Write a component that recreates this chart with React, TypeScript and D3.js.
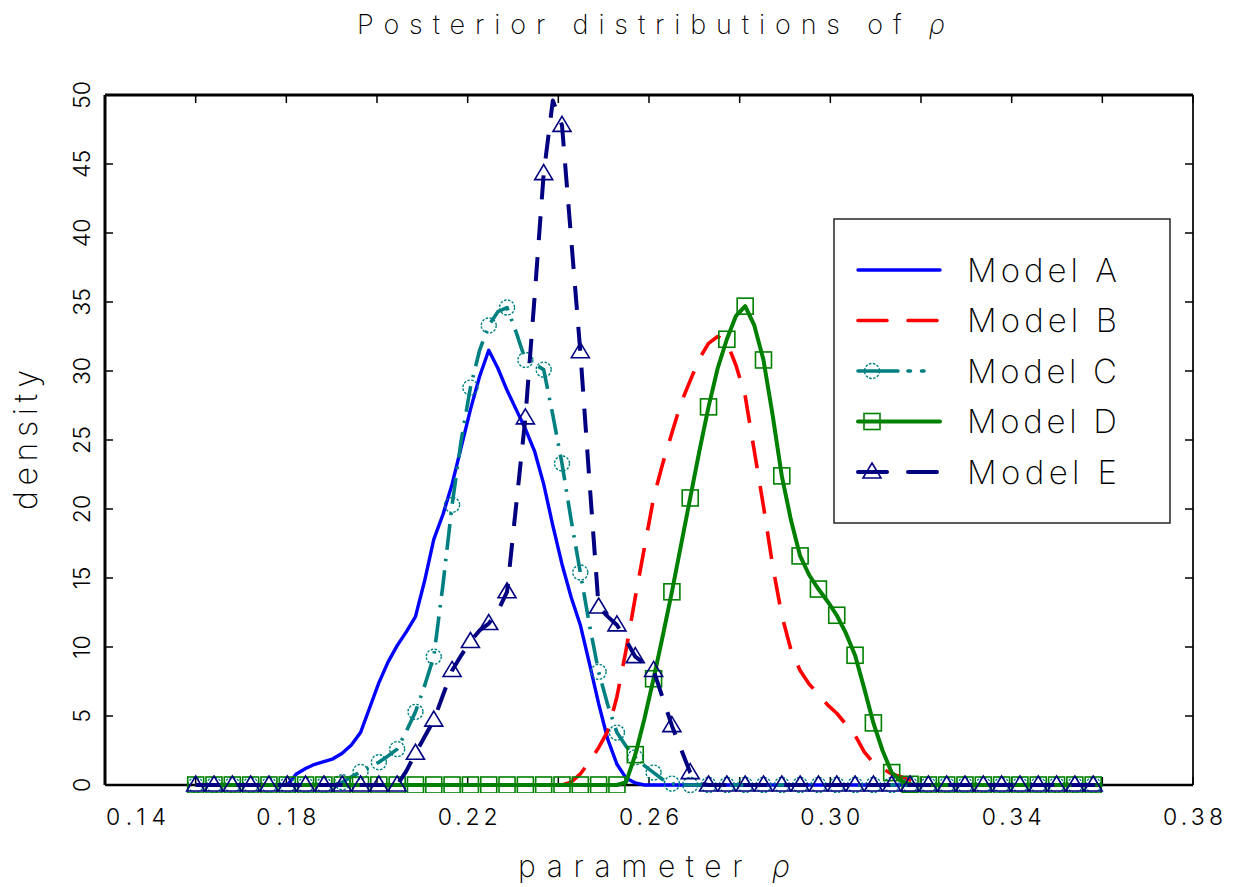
import React from 'react';
import * as d3 from 'd3';

const W = 1233;
const H = 887;

// Evaluation grid of the posterior densities (parameter rho)
const gridStart = 0.16;
const gridEnd = 0.36;
const gridCount = 100;
const xGrid = d3.range(gridCount).map((i) => gridStart + (i * (gridEnd - gridStart)) / (gridCount - 1));

const xTicks = [0.14, 0.16, 0.18, 0.2, 0.22, 0.24, 0.26, 0.28, 0.3, 0.32, 0.34, 0.36, 0.38];
const xTickLabels = ['0.14', '0.18', '0.22', '0.26', '0.30', '0.34', '0.38'];
const yTicks = [0, 5, 10, 15, 20, 25, 30, 35, 40, 45, 50];

const modelA = [
  0, 0, 0, 0, 0, 0, 0, 0, 0, 0, 0,
  0.8, 1.2, 1.5, 1.7, 1.9, 2.3, 2.9, 3.8, 5.6, 7.4,
  8.9, 10.1, 11.1, 12.2, 14.8, 17.8, 19.6, 21.8, 24.5, 27.2,
  29.6, 31.5, 30.2, 28.6, 27.2, 25.8, 24.2, 21.8, 18.8, 16.0,
  13.6, 11.6, 8.8, 5.9, 3.3, 1.5, 0.5, 0.15,
  0, 0, 0, 0, 0, 0, 0, 0, 0, 0, 0, 0, 0, 0, 0, 0, 0, 0, 0, 0, 0, 0, 0, 0, 0,
  0, 0, 0, 0, 0, 0, 0, 0, 0, 0, 0, 0, 0, 0, 0, 0, 0, 0, 0, 0, 0, 0, 0, 0, 0, 0,
];

const modelB = [
  0, 0, 0, 0, 0, 0, 0, 0, 0, 0, 0, 0, 0, 0, 0, 0, 0, 0, 0, 0,
  0, 0, 0, 0, 0, 0, 0, 0, 0, 0, 0, 0, 0, 0, 0, 0, 0, 0, 0, 0, 0,
  0.2, 0.8, 1.7, 2.7, 3.9, 6.4, 9.8, 13.6, 17.2, 20.8,
  23.3, 25.5, 27.7, 29.3, 30.9, 32.0, 32.5, 32.1, 30.4, 28.2,
  24.2, 20.2, 15.9, 12.3, 9.8, 8.3, 7.3, 6.6, 5.8, 5.2,
  4.4, 3.6, 2.4, 1.6, 1.2, 0.8, 0.6, 0.35, 0.1,
  0, 0, 0, 0, 0, 0, 0, 0, 0, 0, 0, 0, 0, 0, 0, 0, 0, 0, 0, 0,
];

const modelC = [
  0, 0, 0, 0, 0, 0, 0, 0, 0, 0, 0, 0, 0, 0, 0, 0,
  0.2, 0.6, 0.95, 1.3, 1.65, 2.1, 2.6, 3.9, 5.3, 7.2,
  9.3, 14.5, 20.3, 25.0, 28.8, 31.5, 33.3, 34.3, 34.6, 32.8,
  30.8, 30.5, 30.1, 26.8, 23.3, 19.2, 15.4, 11.6, 8.2, 5.8,
  3.8, 2.8, 2.0, 1.4, 0.9, 0.4, 0.1,
  0, 0, 0, 0, 0, 0, 0, 0, 0, 0, 0, 0, 0, 0, 0, 0, 0, 0, 0, 0, 0, 0, 0,
  0, 0, 0, 0, 0, 0, 0, 0, 0, 0, 0, 0, 0, 0, 0, 0, 0, 0, 0, 0, 0, 0, 0, 0,
];

const modelD = [
  0, 0, 0, 0, 0, 0, 0, 0, 0, 0, 0, 0, 0, 0, 0, 0, 0, 0, 0, 0, 0, 0, 0, 0,
  0, 0, 0, 0, 0, 0, 0, 0, 0, 0, 0, 0, 0, 0, 0, 0, 0, 0, 0, 0, 0, 0, 0,
  0.2, 2.2, 4.8, 7.7, 10.8, 14.0, 17.4, 20.8, 24.2, 27.4,
  30.2, 32.3, 34.0, 34.7, 33.3, 30.8, 26.8, 22.4, 19.2, 16.6,
  15.2, 14.2, 13.3, 12.3, 11.0, 9.4, 7.0, 4.5, 2.5, 0.9, 0.3, 0.05,
  0, 0, 0, 0, 0, 0, 0, 0, 0, 0, 0, 0, 0, 0, 0, 0, 0, 0, 0, 0, 0,
];

const modelE = [
  0, 0, 0, 0, 0, 0, 0, 0, 0, 0, 0, 0, 0, 0, 0, 0, 0, 0, 0, 0, 0, 0, 0,
  1.0, 2.3, 3.5, 4.7, 6.5, 8.3, 9.4, 10.4, 11.2, 11.7,
  12.6, 14.0, 20.3, 26.6, 35.3, 44.3, 49.6, 47.8, 39.6, 31.4,
  22.0, 12.9, 12.2, 11.6, 10.5, 9.3, 8.8, 8.3, 6.3, 4.3,
  2.6, 0.9, 0.1,
  0, 0, 0, 0, 0, 0, 0, 0, 0, 0, 0, 0, 0, 0, 0, 0, 0, 0, 0, 0, 0, 0,
  0, 0, 0, 0, 0, 0, 0, 0, 0, 0, 0, 0, 0, 0, 0, 0, 0, 0, 0, 0, 0, 0,
];

const modelNames = ['Model A', 'Model B', 'Model C', 'Model D', 'Model E'];

type Style = { color: string; width: number; dash?: string; marker?: 'circle' | 'square' | 'triangle' };
const styles: Style[] = [
  { color: '#0000ff', width: 3.4 },
  { color: '#ff0000', width: 3.6, dash: '28 18' },
  { color: '#008080', width: 3.6, dash: '26 9 2.5 9', marker: 'circle' },
  { color: '#008000', width: 4 },
  { color: '#000080', width: 4, dash: '24 17', marker: 'triangle' },
];
styles[3].marker = 'square';

const FONT = "Inter, 'DejaVu Sans', sans-serif";

function Marker({ kind, cx, cy, color }: { kind: string; cx: number; cy: number; color: string }) {
  if (kind === 'circle') {
    return <circle cx={cx} cy={cy} r={7.5} fill="none" stroke={color} strokeWidth={1.4} strokeDasharray="2.5 1.5" />;
  }
  if (kind === 'square') {
    return <rect x={cx - 8} y={cy - 8} width={16} height={16} fill="none" stroke={color} strokeWidth={1.6} />;
  }
  return (
    <path
      d={`M${cx},${cy - 9} L${cx + 9},${cy + 6} L${cx - 9},${cy + 6} Z`}
      fill="none"
      stroke={color}
      strokeWidth={1.6}
    />
  );
}

export default function App() {
  const x = d3.scaleLinear().domain([0.14, 0.38]).range([105, 1193]);
  const y = d3.scaleLinear().domain([0, 50]).range([785, 95]);
  const series = [modelA, modelB, modelC, modelD, modelE];
  const line = d3
    .line<number>()
    .x((_, i) => x(xGrid[i]))
    .y((d) => y(d));

  const legendX0 = 858;
  const legendX1 = 940;
  const legendY = (i: number) => 270 + i * 50.5;

  return (
    <svg width={W} height={H} style={{ position: 'absolute', left: 0, top: 0, background: '#fff' }} fontFamily={FONT}>
      <rect x={0} y={0} width={W} height={H} fill="#fff" />
      {/* title */}
      <text x={651} y={34} fontSize={27} fontWeight={200} textAnchor="middle" textLength={588} lengthAdjust="spacing">
        Posterior distributions of <tspan fontStyle="italic">ρ</tspan>
      </text>

      {/* axes box */}
      <line x1={105} x2={1193} y1={95} y2={95} stroke="#000" strokeWidth={3} />
      <line x1={105} x2={105} y1={95} y2={785} stroke="#000" strokeWidth={3} />
      <line x1={105} x2={1193} y1={785} y2={785} stroke="#000" strokeWidth={2.5} />
      <line x1={1193} x2={1193} y1={95} y2={785} stroke="#222" strokeWidth={2} />
      {yTicks.map((t) => (
        <g key={'yt' + t}>
          <line x1={105} x2={113} y1={y(t)} y2={y(t)} stroke="#000" strokeWidth={1.5} />
          <line x1={1185} x2={1193} y1={y(t)} y2={y(t)} stroke="#000" strokeWidth={1.5} />
          <text
            transform={`translate(90,${y(t)}) rotate(-90)`}
            fontSize={23}
            fontWeight={300}
            textAnchor="middle"
          >
            {String(t)}
          </text>
        </g>
      ))}
      {xTicks.map((t) => (
        <g key={'xt' + t}>
          <line x1={x(t)} x2={x(t)} y1={95} y2={103} stroke="#000" strokeWidth={1.5} />
          <line x1={x(t)} x2={x(t)} y1={777} y2={785} stroke="#000" strokeWidth={1.5} />
        </g>
      ))}
      {xTickLabels.map((lab, i) => (
        <text
          key={'xl' + lab}
          x={i === 0 ? x(+lab) + 31 : x(+lab)}
          y={825}
          fontSize={23}
          fontWeight={300}
          textAnchor="middle"
          textLength={60}
          lengthAdjust="spacing"
        >
          {lab}
        </text>
      ))}
      <text x={654} y={877} fontSize={30} fontWeight={200} textAnchor="middle" textLength={272} lengthAdjust="spacing">
        parameter <tspan fontStyle="italic">ρ</tspan>
      </text>
      <text
        transform="translate(37,440) rotate(-90)"
        fontSize={32}
        fontWeight={200}
        textAnchor="middle"
        textLength={140}
        lengthAdjust="spacing"
      >
        density
      </text>

      {/* series */}
      <defs>
        <clipPath id="plotclip">
          <rect x={105} y={93} width={1088} height={700} />
        </clipPath>
      </defs>
      <g clipPath="url(#plotclip)">
        {series.map((s, si) => {
          const st = styles[si];
          return (
            <g key={'s' + si}>
              <path
                d={line(s) || ''}
                fill="none"
                stroke={st.color}
                strokeWidth={st.width}
                strokeDasharray={st.dash}
                strokeLinejoin="round"
              />
              {st.marker &&
                s.map((v, i) =>
                  i % 2 === 0 ? (
                    <Marker key={i} kind={st.marker!} cx={x(xGrid[i])} cy={y(v)} color={st.color} />
                  ) : null
                )}
            </g>
          );
        })}
      </g>

      {/* legend */}
      <rect x={834} y={219} width={336} height={304} fill="#fff" stroke="#333" strokeWidth={1.6} />
      {modelNames.map((name, i) => {
        const st = styles[i];
        const ly = legendY(i);
        return (
          <g key={'lg' + i}>
            <line
              x1={legendX0}
              x2={legendX1}
              y1={ly}
              y2={ly}
              stroke={st.color}
              strokeWidth={st.width}
              strokeDasharray={i === 1 || i === 4 ? '29 21' : i === 2 ? '40 10 2.5 11 2.5 20' : undefined}
              strokeLinecap="round"
            />
            {st.marker && <Marker kind={st.marker} cx={872} cy={ly} color={st.color} />}
            <text x={967} y={ly} dy="0.36em" fontSize={33} fontWeight={200} textLength={150} lengthAdjust="spacing">
              {name}
            </text>
          </g>
        );
      })}
    </svg>
  );
}
